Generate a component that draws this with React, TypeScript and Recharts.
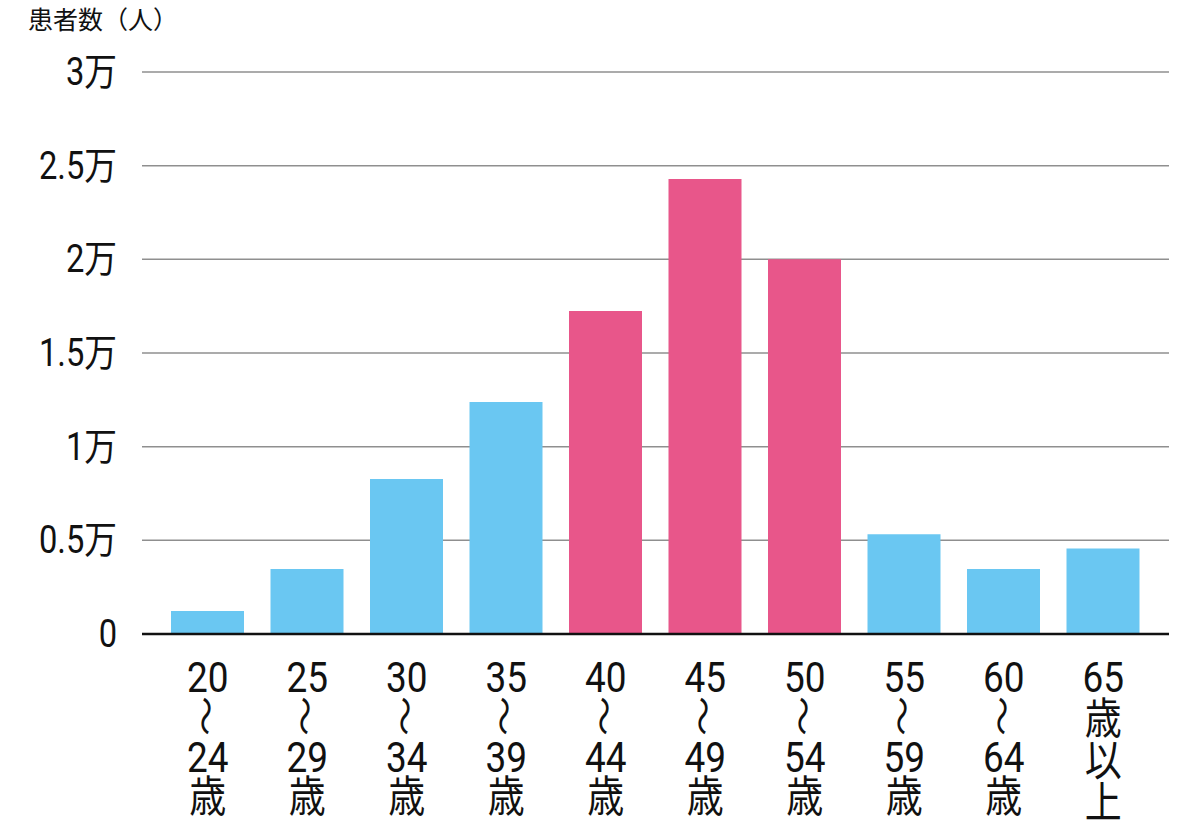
import { BarChart, Bar, XAxis, YAxis, CartesianGrid, Cell } from "recharts";

// 年齢階級（各行が x 軸ラベルの1行）
const AGE_GROUPS = [
  ["20", "~", "24", "歳"],
  ["25", "~", "29", "歳"],
  ["30", "~", "34", "歳"],
  ["35", "~", "39", "歳"],
  ["40", "~", "44", "歳"],
  ["45", "~", "49", "歳"],
  ["50", "~", "54", "歳"],
  ["55", "~", "59", "歳"],
  ["60", "~", "64", "歳"],
  ["65", "歳", "以", "上"],
];
const PATIENTS = [1230, 3470, 8280, 12390, 17240, 24290, 20000, 5320, 3470, 4570];
const PEAK_GROUPS = ["40", "45", "50"];
const Y_TICKS = [0, 5000, 10000, 15000, 20000, 25000, 30000];
const Y_LABELS = ["0", "0.5万", "1万", "1.5万", "2万", "2.5万", "3万"];

const BLUE = "#6AC7F2";
const PINK = "#E8568A";
const FONT = "Roboto, 'Noto Sans CJK JP', sans-serif";

const data = AGE_GROUPS.map((lines, i) => ({ key: lines[0], lines, value: PATIENTS[i] }));

function YTick({ x, y, payload }: any) {
  const i = Y_TICKS.indexOf(payload.value);
  return (
    <g transform={`translate(${x},${y}) scale(0.86,1)`}>
      <text x={0} y={0} dy={13} textAnchor="end" fontFamily={FONT} fontSize={38} fill="#111">
        {Y_LABELS[i]}
      </text>
    </g>
  );
}

function XTick({ x, y, payload }: any) {
  const row = data.find((d) => d.key === payload.value);
  if (!row) return null;
  const baselines = row.lines[1] === "~" ? [58, 98, 138, 178] : [58, 100, 142, 184];
  return (
    <g transform={`translate(${x},${y})`}>
      {row.lines.map((ln, i) =>
        ln === "~" ? (
          <text key={i} x={0} y={0} transform="translate(0,82) rotate(90) scale(1,0.8)"
            textAnchor="middle" dominantBaseline="central" fontFamily="'Noto Sans CJK JP'" fontSize={40} fill="#111">
            〜
          </text>
        ) : (
          <text key={i} x={0} y={baselines[i]} transform="scale(0.86,1)" textAnchor="middle"
            fontFamily={FONT} fontSize={43} fill="#111">
            {ln}
          </text>
        )
      )}
    </g>
  );
}

export default function App() {
  return (
    <div style={{ position: "absolute", left: 0, top: 0, width: 1200, height: 830, background: "#fff" }}>
      <div style={{ position: "absolute", left: 28, top: 6, fontFamily: "'Noto Sans CJK JP', sans-serif", fontSize: 25, lineHeight: 1, color: "#111" }}>
        患者数（人）
      </div>
      <BarChart width={1200} height={830} data={data} margin={{ top: 72, right: 31, left: 0, bottom: 0 }} barSize={73}>
        <CartesianGrid vertical={false} stroke="#8f8f8f" strokeWidth={1.5} />
        <XAxis dataKey="key" height={196} interval={0} tickLine={false} tickSize={0} tickMargin={0}
          padding={{ left: 16, right: 16 }} axisLine={{ stroke: "#111", strokeWidth: 2.5 }} tick={<XTick />} />
        <YAxis width={142} domain={[0, 30000]} ticks={Y_TICKS} axisLine={false} tickLine={false}
          tickSize={0} tickMargin={25} tick={<YTick />} />
        <Bar dataKey="value" isAnimationActive={false}>
          {data.map((d) => (
            <Cell key={d.key} fill={PEAK_GROUPS.includes(d.key) ? PINK : BLUE} />
          ))}
        </Bar>
      </BarChart>
    </div>
  );
}
